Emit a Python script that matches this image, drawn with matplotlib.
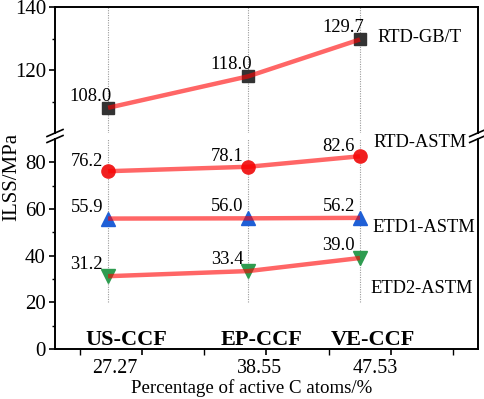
import matplotlib
matplotlib.use("Agg")
import matplotlib.pyplot as plt
from matplotlib.lines import Line2D
from matplotlib.transforms import blended_transform_factory

plt.rcParams['font.family'] = ['Liberation Serif', 'DejaVu Serif']

# ---- data ----
x_pos = [27.27, 38.55, 47.53]
tick_labels = ["27.27", "38.55", "47.53"]
categories = ["US-CCF", "EP-CCF", "VE-CCF"]
rtd_gbt = [108.0, 118.0, 129.7]
rtd_astm = [76.2, 78.1, 82.6]
etd1_astm = [55.9, 56.0, 56.2]
etd2_astm = [31.2, 33.4, 39.0]
series_names = ["RTD-GB/T", "RTD-ASTM", "ETD1-ASTM", "ETD2-ASTM"]

W, H = 484, 399
fig = plt.figure(figsize=(W / 100, H / 100), dpi=100)
L, Rr = 55 / W, 477.7 / W
ax_top = fig.add_axes([L, 1 - 133 / H, Rr - L, (133 - 7) / H])
ax_bot = fig.add_axes([L, 1 - 349 / H, Rr - L, (349 - 139) / H])

xlim = (23.0, 57.0)
line_col = (1.0, 0.0, 0.0, 0.6)
grid_col = "#9a9a9a"

for ax in (ax_top, ax_bot):
    ax.set_xlim(*xlim)
    for s in ax.spines.values():
        s.set_linewidth(1.4)
    ax.tick_params(axis='y', which='major', direction='out', length=4.5, width=1.2,
                   labelsize=15, pad=2)
    ax.tick_params(axis='y', which='minor', direction='out', length=2.5, width=1.0)
    ax.tick_params(right=False, top=False)

# top axis
ax_top.set_ylim(100, 140)
ax_top.spines['bottom'].set_visible(False)
ax_top.set_yticks([120, 140])
ax_top.set_yticks([110, 130], minor=True)
ax_top.set_xticks([])
ax_top.tick_params(axis='x', which='both', bottom=False, labelbottom=False)
for xv in x_pos:
    ax_top.axvline(xv, color=grid_col, lw=0.8, ls=(0, (1, 1.2)), zorder=1)

# bottom axis
ax_bot.set_ylim(0, 90)
ax_bot.spines['top'].set_visible(False)
ax_bot.set_yticks([0, 20, 40, 60, 80])
ax_bot.set_yticks([10, 30, 50, 70], minor=True)
ax_bot.set_xticks([30, 40, 50])
ax_bot.set_xticks([25, 35, 45, 55], minor=True)
ax_bot.set_xticklabels(["", "", ""])
ax_bot.tick_params(axis='x', which='major', direction='out', length=4, width=1.2)
ax_bot.tick_params(axis='x', which='minor', direction='out', length=4, width=1.0)
ax_bot.vlines(x_pos, 20, 90, color=grid_col, lw=0.8, linestyles=[(0, (1, 1.2))], zorder=1)

# series
ax_top.plot(x_pos, rtd_gbt, ls='none', marker='s', ms=8.8, color='#333333', zorder=3)
ax_top.plot(x_pos, rtd_gbt, color=line_col, lw=3.2, zorder=4, solid_capstyle='butt')

ax_bot.plot(x_pos, rtd_astm, ls='none', marker='o', ms=9.5, color='#f02020', zorder=3)
ax_bot.plot(x_pos, rtd_astm, color=line_col, lw=3.2, zorder=4, solid_capstyle='butt')
ax_bot.plot(x_pos, etd1_astm, ls='none', marker='^', ms=10.5, color='#1f5fd6', zorder=3)
ax_bot.plot(x_pos, etd1_astm, color=line_col, lw=3.2, zorder=4, solid_capstyle='butt')
ax_bot.plot(x_pos, etd2_astm, ls='none', marker='v', ms=10.5, color='#2e9c50', zorder=3)
ax_bot.plot(x_pos, etd2_astm, color=line_col, lw=3.2, zorder=4, solid_capstyle='butt')

# value labels
def labels(ax, ys, dx, dy):
    for xv, yv in zip(x_pos, ys):
        ax.annotate(f"{yv:.1f}", (xv, yv), xytext=(dx, dy), textcoords='offset pixels',
                    ha='right', va='baseline', fontsize=13.3, zorder=6)

labels(ax_top, rtd_gbt, 4, 7)
labels(ax_bot, rtd_astm, -5, 5.5)
labels(ax_bot, etd1_astm, -5, 7)
labels(ax_bot, etd2_astm, -5, 7.5)

# series names
ax_top.text(48.9, 128.9, series_names[0], fontsize=13.3, ha='left', va='baseline')
ax_bot.text(48.6, 86.7, series_names[1], fontsize=13.3, ha='left', va='baseline', clip_on=False)
ax_bot.text(48.5, 50.2, series_names[2], fontsize=13.3, ha='left', va='baseline')
ax_bot.text(48.4, 24.0, series_names[3], fontsize=13.3, ha='left', va='baseline')

# category labels
cat_x = [28.71, 39.65, 48.58]
for cx, c in zip(cat_x, categories):
    ax_bot.text(cx, 1.8, c, fontsize=16, fontweight='bold', ha='center', va='baseline')

# x tick labels (placed text)
tl_x = [27.83, 39.47, 48.77]
trans = blended_transform_factory(ax_bot.transData, fig.transFigure)
for tx, t in zip(tl_x, tick_labels):
    fig.text(tx, 1 - 373 / H, t, transform=trans, fontsize=14.4, ha='center', va='baseline')

fig.text(252 / W, 1 - 393 / H, "Percentage of active C atoms/%", fontsize=13.6,
         ha='center', va='baseline')
fig.text(12 / W, 1 - 177 / H, "ILSS/MPa", fontsize=15, rotation=90, ha='center', va='center')

# axis break marks
def brk(xc, yc):
    for off in (-3, 3):
        x0, y0 = xc - 8, yc + off + 3.5
        x1, y1 = xc + 8, yc + off - 3.5
        fig.add_artist(Line2D([x0 / W, x1 / W], [1 - y0 / H, 1 - y1 / H],
                              color='black', lw=1.2, transform=fig.transFigure))

brk(55, 136)
brk(477.7, 136)

fig.savefig("out.png", dpi=100)
